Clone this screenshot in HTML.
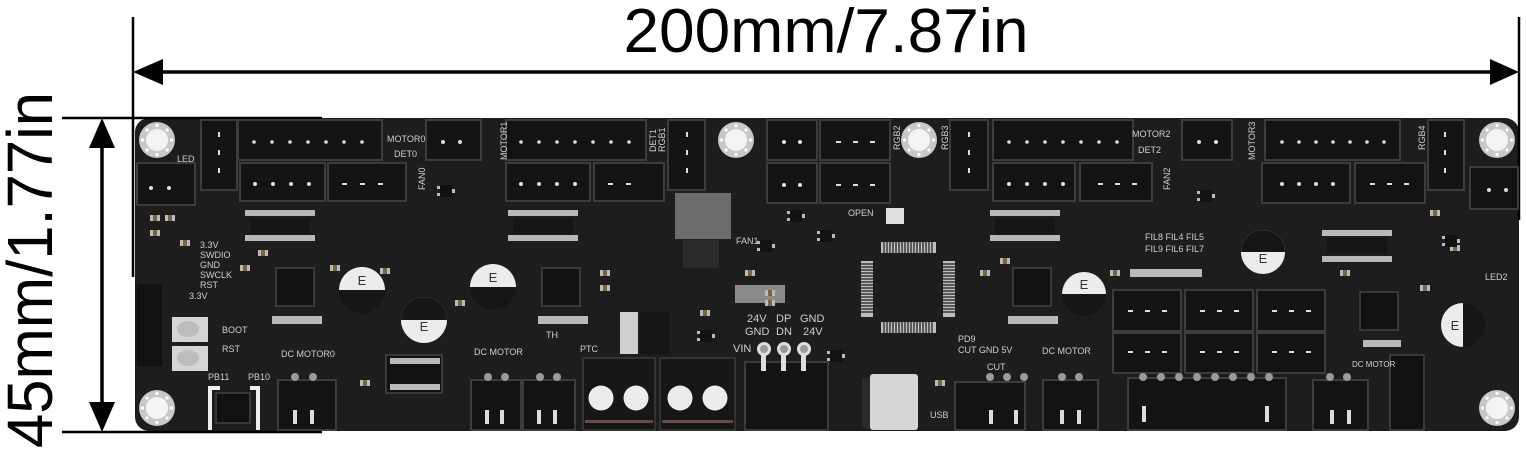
<!DOCTYPE html>
<html><head><meta charset="utf-8"><style>
html,body{margin:0;padding:0;background:#fff;}
svg{display:block;}
text{font-family:"Liberation Sans",sans-serif;}
</style></head><body>
<svg width="1526" height="450" viewBox="0 0 1526 450" xmlns="http://www.w3.org/2000/svg">
<defs>
<g id="hole"><circle r="18" fill="#c8c8c8"/><circle r="11" fill="#f4f4f4"/>
<circle cx="0" cy="-14.5" r="1.6" fill="#fff"/><circle cx="0" cy="14.5" r="1.6" fill="#fff"/><circle cx="14.5" cy="0" r="1.6" fill="#fff"/><circle cx="-14.5" cy="0" r="1.6" fill="#fff"/>
<circle cx="10" cy="10" r="1.6" fill="#fff"/><circle cx="-10" cy="10" r="1.6" fill="#fff"/><circle cx="10" cy="-10" r="1.6" fill="#fff"/><circle cx="-10" cy="-10" r="1.6" fill="#fff"/></g>
<g id="smd"><rect width="10" height="6" fill="#bbb"/><rect x="3" width="4" height="6" fill="#7a6440"/></g>
<g id="sot"><rect width="12" height="12" fill="#111"/><rect x="-3" y="1" width="3" height="3" fill="#bbb"/><rect x="-3" y="8" width="3" height="3" fill="#bbb"/><rect x="12" y="4" width="3" height="4" fill="#bbb"/></g>
</defs>
<rect width="1526" height="450" fill="#fff"/>
<rect x="135" y="118" width="1384" height="313" rx="14" fill="#1d1d1d"/>
<line x1="133" y1="17" x2="133" y2="277" stroke="#000" stroke-width="2.5"/>
<line x1="1519" y1="17" x2="1519" y2="220" stroke="#000" stroke-width="2.5"/>
<line x1="150" y1="72" x2="1505" y2="72" stroke="#000" stroke-width="3.5"/>
<polygon points="133,72 163,59 163,85" fill="#000"/>
<polygon points="1519,72 1490,59 1490,85" fill="#000"/>
<line x1="62" y1="118" x2="322" y2="118" stroke="#000" stroke-width="2.5"/>
<line x1="62" y1="432" x2="322" y2="432" stroke="#000" stroke-width="2.5"/>
<line x1="102" y1="135" x2="102" y2="415" stroke="#000" stroke-width="3.5"/>
<polygon points="102,118 89,148 115,148" fill="#000"/>
<polygon points="102,432 89,402 115,402" fill="#000"/>
<text x="826" y="52" font-size="62" text-anchor="middle" textLength="405" lengthAdjust="spacingAndGlyphs" fill="#000">200mm/7.87in</text>
<text transform="translate(52,270) rotate(-90)" x="0" y="0" font-size="64" text-anchor="middle" textLength="356" lengthAdjust="spacingAndGlyphs" fill="#000">45mm/1.77in</text>

<g fill="#131313" stroke="#3c3c3c" stroke-width="2">
<rect x="238" y="120" width="144" height="40"/>
<rect x="240" y="163" width="85" height="38"/>
<rect x="328" y="163" width="78" height="38"/>
<rect x="137" y="163" width="58" height="42"/>
<rect x="201" y="120" width="36" height="70"/>
<rect x="426" y="120" width="55" height="40"/>
<rect x="506" y="120" width="140" height="40"/>
<rect x="506" y="163" width="84" height="38"/>
<rect x="594" y="163" width="70" height="38"/>
<rect x="668" y="120" width="37" height="70"/>
<rect x="767" y="120" width="50" height="40"/>
<rect x="820" y="120" width="70" height="40"/>
<rect x="767" y="163" width="50" height="40"/>
<rect x="820" y="163" width="70" height="40"/>
<rect x="950" y="120" width="38" height="70"/>
<rect x="993" y="120" width="140" height="40"/>
<rect x="993" y="163" width="82" height="38"/>
<rect x="1080" y="163" width="72" height="38"/>
<rect x="1182" y="120" width="50" height="40"/>
<rect x="1265" y="120" width="135" height="40"/>
<rect x="1262" y="163" width="88" height="40"/>
<rect x="1355" y="163" width="70" height="40"/>
<rect x="1428" y="120" width="36" height="70"/>
<rect x="1470" y="167" width="48" height="42"/>
<rect x="1113" y="290" width="68" height="41"/><rect x="1185" y="290" width="68" height="41"/><rect x="1257" y="290" width="68" height="41"/>
<rect x="1113" y="333" width="68" height="40"/><rect x="1185" y="333" width="68" height="40"/><rect x="1257" y="333" width="68" height="40"/>
<rect x="278" y="380" width="58" height="50"/>
<rect x="471" y="380" width="50" height="50"/>
<rect x="523" y="380" width="52" height="50"/>
<rect x="745" y="362" width="83" height="68"/>
<rect x="955" y="382" width="70" height="48"/>
<rect x="1043" y="380" width="55" height="50"/>
<rect x="1128" y="378" width="158" height="52"/>
<rect x="1313" y="380" width="55" height="50"/>
</g>
<g fill="#ddd">
<circle cx="254" cy="142" r="1.8"/><circle cx="272" cy="142" r="1.8"/><circle cx="290" cy="142" r="1.8"/><circle cx="308" cy="142" r="1.8"/><circle cx="326" cy="142" r="1.8"/><circle cx="344" cy="142" r="1.8"/><circle cx="362" cy="142" r="1.8"/>
<circle cx="255" cy="184" r="2"/><circle cx="273" cy="184" r="2"/><circle cx="291" cy="184" r="2"/><circle cx="309" cy="184" r="2"/>
<rect x="342" y="183" width="5" height="2"/><rect x="360" y="183" width="5" height="2"/><rect x="378" y="183" width="5" height="2"/>
<circle cx="151" cy="188" r="2"/><circle cx="169" cy="188" r="2"/>
<rect x="218" y="132" width="2" height="5"/><rect x="218" y="150" width="2" height="5"/><rect x="218" y="168" width="2" height="5"/>
<circle cx="443" cy="142" r="2"/><circle cx="460" cy="142" r="2"/>
<circle cx="521" cy="142" r="1.8"/><circle cx="539" cy="142" r="1.8"/><circle cx="557" cy="142" r="1.8"/><circle cx="575" cy="142" r="1.8"/><circle cx="593" cy="142" r="1.8"/><circle cx="611" cy="142" r="1.8"/><circle cx="629" cy="142" r="1.8"/>
<circle cx="521" cy="184" r="2"/><circle cx="539" cy="184" r="2"/><circle cx="557" cy="184" r="2"/><circle cx="575" cy="184" r="2"/>
<rect x="608" y="183" width="5" height="2"/><rect x="626" y="183" width="5" height="2"/>
<rect x="686" y="132" width="2" height="5"/><rect x="686" y="150" width="2" height="5"/><rect x="686" y="168" width="2" height="5"/>
<circle cx="784" cy="142" r="2"/><circle cx="800" cy="142" r="2"/>
<rect x="836" y="141" width="5" height="2"/><rect x="853" y="141" width="5" height="2"/><rect x="870" y="141" width="5" height="2"/>
<circle cx="784" cy="185" r="2"/><circle cx="800" cy="185" r="2"/>
<rect x="836" y="184" width="5" height="2"/><rect x="853" y="184" width="5" height="2"/><rect x="870" y="184" width="5" height="2"/>
<rect x="968" y="132" width="2" height="5"/><rect x="968" y="150" width="2" height="5"/><rect x="968" y="168" width="2" height="5"/>
<circle cx="1009" cy="142" r="1.8"/><circle cx="1027" cy="142" r="1.8"/><circle cx="1045" cy="142" r="1.8"/><circle cx="1063" cy="142" r="1.8"/><circle cx="1081" cy="142" r="1.8"/><circle cx="1099" cy="142" r="1.8"/><circle cx="1117" cy="142" r="1.8"/>
<circle cx="1009" cy="184" r="2"/><circle cx="1027" cy="184" r="2"/><circle cx="1045" cy="184" r="2"/><circle cx="1063" cy="184" r="2"/>
<rect x="1098" y="183" width="5" height="2"/><rect x="1115" y="183" width="5" height="2"/><rect x="1132" y="183" width="5" height="2"/>
<circle cx="1199" cy="142" r="2"/><circle cx="1216" cy="142" r="2"/>
<circle cx="1282" cy="142" r="1.8"/><circle cx="1299" cy="142" r="1.8"/><circle cx="1316" cy="142" r="1.8"/><circle cx="1333" cy="142" r="1.8"/><circle cx="1350" cy="142" r="1.8"/><circle cx="1367" cy="142" r="1.8"/><circle cx="1384" cy="142" r="1.8"/>
<circle cx="1282" cy="184" r="2"/><circle cx="1299" cy="184" r="2"/><circle cx="1316" cy="184" r="2"/><circle cx="1333" cy="184" r="2"/>
<rect x="1370" y="183" width="5" height="2"/><rect x="1387" y="183" width="5" height="2"/><rect x="1404" y="183" width="5" height="2"/>
<rect x="1444" y="132" width="2" height="5"/><rect x="1444" y="150" width="2" height="5"/><rect x="1444" y="168" width="2" height="5"/>
<circle cx="1489" cy="190" r="2"/><circle cx="1506" cy="190" r="2"/>
<rect x="1128" y="310" width="5" height="2"/><rect x="1145" y="310" width="5" height="2"/><rect x="1162" y="310" width="5" height="2"/>
<rect x="1200" y="310" width="5" height="2"/><rect x="1217" y="310" width="5" height="2"/><rect x="1234" y="310" width="5" height="2"/>
<rect x="1272" y="310" width="5" height="2"/><rect x="1289" y="310" width="5" height="2"/><rect x="1306" y="310" width="5" height="2"/>
<rect x="1128" y="351" width="5" height="2"/><rect x="1145" y="351" width="5" height="2"/><rect x="1162" y="351" width="5" height="2"/>
<rect x="1200" y="351" width="5" height="2"/><rect x="1217" y="351" width="5" height="2"/><rect x="1234" y="351" width="5" height="2"/>
<rect x="1272" y="351" width="5" height="2"/><rect x="1289" y="351" width="5" height="2"/><rect x="1306" y="351" width="5" height="2"/>
<rect x="293" y="410" width="4" height="14"/><rect x="310" y="410" width="4" height="14"/>
<rect x="485" y="410" width="4" height="14"/><rect x="500" y="410" width="4" height="14"/>
<rect x="537" y="410" width="4" height="14"/><rect x="553" y="410" width="4" height="14"/>
<rect x="989" y="410" width="4" height="14"/><rect x="1014" y="410" width="4" height="14"/>
<rect x="1060" y="410" width="4" height="14"/><rect x="1077" y="410" width="4" height="14"/>
<rect x="1142" y="406" width="4" height="16"/><rect x="1265" y="406" width="4" height="16"/>
<rect x="1330" y="410" width="4" height="14"/><rect x="1347" y="410" width="4" height="14"/>
</g>
<g fill="#9a9a9a">
<circle cx="295" cy="377" r="4"/><circle cx="313" cy="377" r="4"/>
<circle cx="488" cy="377" r="4"/><circle cx="505" cy="377" r="4"/>
<circle cx="540" cy="377" r="4"/><circle cx="557" cy="377" r="4"/>
<circle cx="990" cy="377" r="4"/><circle cx="1007" cy="377" r="4"/><circle cx="1024" cy="377" r="4"/>
<circle cx="1062" cy="377" r="4"/><circle cx="1079" cy="377" r="4"/>
<circle cx="1143" cy="377" r="4"/><circle cx="1161" cy="377" r="4"/><circle cx="1179" cy="377" r="4"/><circle cx="1197" cy="377" r="4"/><circle cx="1215" cy="377" r="4"/><circle cx="1233" cy="377" r="4"/><circle cx="1251" cy="377" r="4"/><circle cx="1269" cy="377" r="4"/>
<circle cx="1330" cy="377" r="4"/><circle cx="1347" cy="377" r="4"/>
</g>
<rect x="583" y="358" width="72" height="72" fill="#161616" stroke="#333" stroke-width="2"/>
<rect x="660" y="358" width="75" height="72" fill="#161616" stroke="#333" stroke-width="2"/>
<rect x="585" y="420" width="68" height="3" fill="#6a4a44"/><rect x="662" y="420" width="71" height="3" fill="#6a4a44"/>
<g fill="#ececec"><circle cx="601" cy="398" r="12.5"/><circle cx="636" cy="398" r="12.5"/><circle cx="680" cy="398" r="12.5"/><circle cx="715" cy="398" r="12.5"/></g>
<g fill="#ddd"><circle cx="764" cy="349" r="7"/><circle cx="784" cy="349" r="7"/><circle cx="804" cy="349" r="7"/>
<rect x="761" y="349" width="5" height="22"/><rect x="781" y="349" width="5" height="22"/><rect x="801" y="349" width="5" height="22"/></g>
<g fill="#999"><circle cx="764" cy="349" r="4"/><circle cx="784" cy="349" r="4"/><circle cx="804" cy="349" r="4"/></g>
<rect x="870" y="374" width="48" height="56" fill="#d6d6d6" rx="3"/>
<rect x="862" y="378" width="8" height="50" fill="#2a2a2a"/>
<use href="#hole" x="157" y="140"/><use href="#hole" x="736" y="140"/><use href="#hole" x="919" y="140"/><use href="#hole" x="1497" y="140"/>
<use href="#hole" x="157" y="408"/><use href="#hole" x="1497" y="408"/>
<rect x="675" y="193" width="56" height="46" fill="#6c6c6c"/>
<rect x="683" y="240" width="36" height="28" fill="#2a2a2a"/>
<g fill="#bdbdbd">
<rect x="881" y="242" width="55" height="11"/><rect x="881" y="322" width="55" height="11"/>
<rect x="861" y="261" width="12" height="56"/><rect x="943" y="261" width="12" height="56"/>
</g>
<g stroke="#1d1d1d" stroke-width="1.2">
<path d="M884 242v11M887 242v11M890 242v11M893 242v11M896 242v11M899 242v11M902 242v11M905 242v11M908 242v11M911 242v11M914 242v11M917 242v11M920 242v11M923 242v11M926 242v11M929 242v11M932 242v11"/>
<path d="M884 322v11M887 322v11M890 322v11M893 322v11M896 322v11M899 322v11M902 322v11M905 322v11M908 322v11M911 322v11M914 322v11M917 322v11M920 322v11M923 322v11M926 322v11M929 322v11M932 322v11"/>
<path d="M861 264h12M861 267h12M861 270h12M861 273h12M861 276h12M861 279h12M861 282h12M861 285h12M861 288h12M861 291h12M861 294h12M861 297h12M861 300h12M861 303h12M861 306h12M861 309h12M861 312h12"/>
<path d="M943 264h12M943 267h12M943 270h12M943 273h12M943 276h12M943 279h12M943 282h12M943 285h12M943 288h12M943 291h12M943 294h12M943 297h12M943 300h12M943 303h12M943 306h12M943 309h12M943 312h12"/>
</g>
<g fill="#111" stroke="#444" stroke-width="1.5">
<rect x="276" y="268" width="38" height="38"/><rect x="542" y="268" width="38" height="38"/>
<rect x="1013" y="268" width="38" height="38"/><rect x="1360" y="292" width="38" height="38"/>
<rect x="386" y="355" width="56" height="38"/><rect x="1390" y="355" width="34" height="75"/>
<rect x="216" y="393" width="34" height="30"/>
</g>
<g fill="#b8b8b8">
<rect x="245" y="210" width="70" height="6"/><rect x="245" y="235" width="70" height="6"/>
<rect x="508" y="210" width="70" height="6"/><rect x="508" y="235" width="70" height="6"/>
<rect x="990" y="210" width="70" height="6"/><rect x="990" y="235" width="70" height="6"/>
<rect x="1322" y="230" width="70" height="6"/><rect x="1322" y="256" width="70" height="6"/>
<rect x="272" y="316" width="50" height="8"/><rect x="538" y="316" width="50" height="8"/><rect x="1008" y="316" width="50" height="8"/>
<rect x="1130" y="269" width="72" height="8"/><rect x="1363" y="340" width="38" height="7"/>
<rect x="735" y="285" width="50" height="18" fill="#8a8a8a"/>
<rect x="390" y="358" width="50" height="6"/><rect x="390" y="384" width="50" height="6"/>
<rect x="886" y="208" width="18" height="16" fill="#e0e0e0"/>
<rect x="620" y="312" width="18" height="42" fill="#cfcfcf"/>
<rect x="640" y="312" width="30" height="42" fill="#151515"/>
</g>
<g fill="#151515"><rect x="250" y="218" width="60" height="16"/><rect x="513" y="218" width="60" height="16"/><rect x="995" y="218" width="60" height="16"/><rect x="1327" y="238" width="60" height="16"/></g>
<!-- extra small parts -->
<use href="#smd" x="150" y="215"/><use href="#smd" x="165" y="215"/><use href="#smd" x="150" y="230"/><use href="#smd" x="180" y="240"/>
<use href="#smd" x="240" y="265"/><use href="#smd" x="258" y="250"/><use href="#smd" x="330" y="265"/><use href="#smd" x="380" y="268"/>
<use href="#smd" x="455" y="300"/><use href="#smd" x="600" y="270"/><use href="#smd" x="600" y="285"/><use href="#smd" x="745" y="270"/>
<use href="#smd" x="765" y="290"/><use href="#smd" x="765" y="300"/><use href="#smd" x="1000" y="258"/><use href="#smd" x="1110" y="270"/>
<use href="#smd" x="1430" y="210"/><use href="#smd" x="1450" y="245"/><use href="#smd" x="1340" y="270"/><use href="#smd" x="935" y="380"/>
<use href="#smd" x="1420" y="285"/><use href="#smd" x="360" y="380"/><use href="#smd" x="700" y="310"/><use href="#smd" x="980" y="270"/>
<use href="#sot" x="790" y="210"/><use href="#sot" x="820" y="230"/><use href="#sot" x="760" y="240"/><use href="#sot" x="440" y="185"/>
<use href="#sot" x="1200" y="190"/><use href="#sot" x="1445" y="235"/><use href="#sot" x="830" y="350"/><use href="#sot" x="700" y="330"/>
<rect x="172" y="317" width="36" height="25" fill="#d5d5d5"/><ellipse cx="188" cy="329" rx="11" ry="8" fill="#bdbdbd"/>
<rect x="172" y="346" width="36" height="25" fill="#d5d5d5"/><ellipse cx="188" cy="358" rx="11" ry="8" fill="#bdbdbd"/>
<rect x="137" y="284" width="25" height="82" fill="#111"/>
<path d="M210 430V388h10M250 388h8v42" fill="none" stroke="#eee" stroke-width="4"/>
<g>
<circle cx="362" cy="290" r="23" fill="#161616"/><path d="M339 290a23 23 0 0 1 46 0z" fill="#ececec"/>
<circle cx="424" cy="320" r="23" fill="#ececec"/><path d="M401 320a23 23 0 0 1 46 0z" fill="#161616"/>
<circle cx="493" cy="287" r="23" fill="#161616"/><path d="M470 287a23 23 0 0 1 46 0z" fill="#ececec"/>
<circle cx="1084" cy="294" r="22" fill="#161616"/><path d="M1062 294a22 22 0 0 1 44 0z" fill="#ececec"/>
<circle cx="1263" cy="252" r="22" fill="#ececec"/><path d="M1241 252a22 22 0 0 1 44 0z" fill="#161616"/>
<circle cx="1463" cy="325" r="22" fill="#161616"/><path d="M1463 303a22 22 0 0 0 0 44z" fill="#ececec"/>
</g>
<g font-size="13" fill="#333" text-anchor="middle"><text x="362" y="285">E</text><text x="424" y="331">E</text><text x="493" y="282">E</text><text x="1084" y="289">E</text><text x="1263" y="263">E</text><text x="1455" y="330">E</text></g>
<g fill="#cfcfcf" font-size="9">
<text x="177" y="162">LED</text>
<text x="387" y="142">MOTOR0</text><text x="394" y="157">DET0</text>
<text x="200" y="248">3.3V</text><text x="200" y="258">SWDIO</text><text x="200" y="268">GND</text><text x="200" y="278">SWCLK</text><text x="200" y="288">RST</text>
<text x="189" y="299">3.3V</text>
<text x="222" y="333">BOOT</text><text x="222" y="352">RST</text>
<text x="281" y="357">DC MOTOR0</text>
<text x="208" y="380">PB11</text><text x="248" y="380">PB10</text>
<text x="474" y="355">DC MOTOR</text>
<text x="546" y="338">TH</text><text x="580" y="352">PTC</text>
<text x="736" y="244">FAN1</text><text x="848" y="216">OPEN</text>
<text x="747" y="322" font-size="11">24V</text><text x="776" y="322" font-size="11">DP</text><text x="800" y="322" font-size="11">GND</text>
<text x="745" y="335" font-size="11">GND</text><text x="776" y="335" font-size="11">DN</text><text x="803" y="335" font-size="11">24V</text>
<text x="733" y="352" font-size="11">VIN</text>
<text x="958" y="342">PD9</text><text x="958" y="353">CUT GND  5V</text><text x="987" y="370">CUT</text>
<text x="930" y="418">USB</text>
<text x="1042" y="354">DC MOTOR</text>
<text x="1132" y="137">MOTOR2</text><text x="1138" y="153">DET2</text>
<text x="1145" y="240">FIL8 FIL4 FIL5</text><text x="1145" y="252">FIL9 FIL6 FIL7</text>
<text x="1485" y="280">LED2</text>
<text x="1352" y="367" font-size="8">DC MOTOR</text>
</g>
<g fill="#cfcfcf" font-size="9">
<text transform="translate(507,160) rotate(-90)">MOTOR1</text>
<text transform="translate(1255,160) rotate(-90)">MOTOR3</text>
<text transform="translate(656,152) rotate(-90)">DET1</text>
<text transform="translate(665,152) rotate(-90)">RGB1</text>
<text transform="translate(900,150) rotate(-90)">RGB2</text>
<text transform="translate(948,150) rotate(-90)">RGB3</text>
<text transform="translate(1425,150) rotate(-90)">RGB4</text>
<text transform="translate(425,190) rotate(-90)">FAN0</text>
<text transform="translate(1170,190) rotate(-90)">FAN2</text>
</g>
</svg>
</body></html>
